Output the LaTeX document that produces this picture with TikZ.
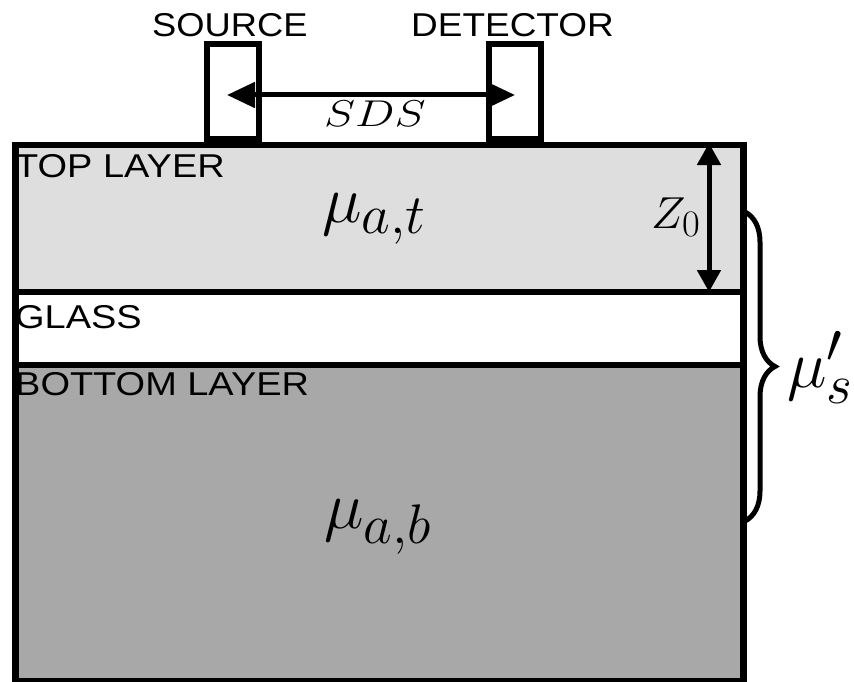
\documentclass[tikz,border=0pt]{standalone}
\usepackage{fontspec}
\setmainfont{Liberation Sans}
\usepackage{graphicx}
\usetikzlibrary{arrows.meta,decorations.pathreplacing}
\definecolor{topgray}{RGB}{222,222,222}
\definecolor{botgray}{RGB}{168,168,168}
\begin{document}
\begin{tikzpicture}[x=1pt,y=-1pt,
  edge/.style={line width=6.5pt},
  probe/.style={draw,line width=5.5pt,minimum width=52pt,minimum height=95pt,anchor=south west,inner sep=0pt,fill=white},
  sans/.style={inner sep=0pt,anchor=base west,font=\fontsize{33}{38}\selectfont},
  mathlbl/.style={inner sep=0pt,anchor=base west},
]
\useasboundingbox (0,0) rectangle (854,682);
% probes
\node[probe] (src) at (204,142) {};
\node[probe] (det) at (486,142) {};
\node[sans] (srclbl) at (152,37) {\scalebox{1.1}[1]{SOURCE}};
\node[sans] (detlbl) at (411,37) {\scalebox{1.12}[1]{DETECTOR}};
% layers
\fill[topgray] (12,142) rectangle (740,292);
\fill[botgray] (12,365) rectangle (740,678);
\node[inner sep=0pt,minimum width=728pt,minimum height=536pt,anchor=north west,draw,line width=6.5pt] (slab) at (12,142) {};
\draw[edge] (12,292) coordinate (g1l) -- (740,292) coordinate (g1r);
\draw[edge] (12,365) coordinate (g2l) -- (740,365) coordinate (g2r);
% SDS arrow
\coordinate (sdsL) at (227,95);
\coordinate (sdsR) at (515,95);
\draw[line width=5pt,{Triangle[length=28pt,width=25pt]}-{Triangle[length=28pt,width=25pt]}] (sdsL) -- (sdsR);
\node[mathlbl] (sds) at (324,127) {\scalebox{1.89}[1.5]{\Huge$SDS$}};
% Z0 arrow
\coordinate (zt) at (709,143);
\coordinate (zb) at (709,292);
\draw[line width=5pt,{Triangle[length=22pt,width=23pt]}-{Triangle[length=22pt,width=23pt]}] (zt) -- (zb);
\node[mathlbl] (z0) at (651,228) {\scalebox{1.86}[1.8]{\Huge$Z_0$}};
% layer labels
\node[sans] (toplbl) at (15,177) {\scalebox{1.15}[1]{TOP LAYER}};
\node[sans] (glasslbl) at (15,328) {\scalebox{1.15}[1]{GLASS}};
\node[sans] (botlbl) at (15,395) {\scalebox{1.15}[1]{BOTTOM LAYER}};
\node[mathlbl] (mat) at (322,222) {\scalebox{2.69}{\Huge$\mu_{a,t}$}};
\node[mathlbl] (mab) at (324,528) {\scalebox{2.69}{\Huge$\mu_{a,b}$}};
% brace
\coordinate (brt) at (745,212);
\coordinate (brb) at (745,521);
\draw[line width=5pt,decorate,decoration={brace,amplitude=30pt}] (brt) -- (brb);
\node[mathlbl] (mus) at (787,387) {\scalebox{2.69}{\Huge$\mu'_s$}};
\end{tikzpicture}
\end{document}
